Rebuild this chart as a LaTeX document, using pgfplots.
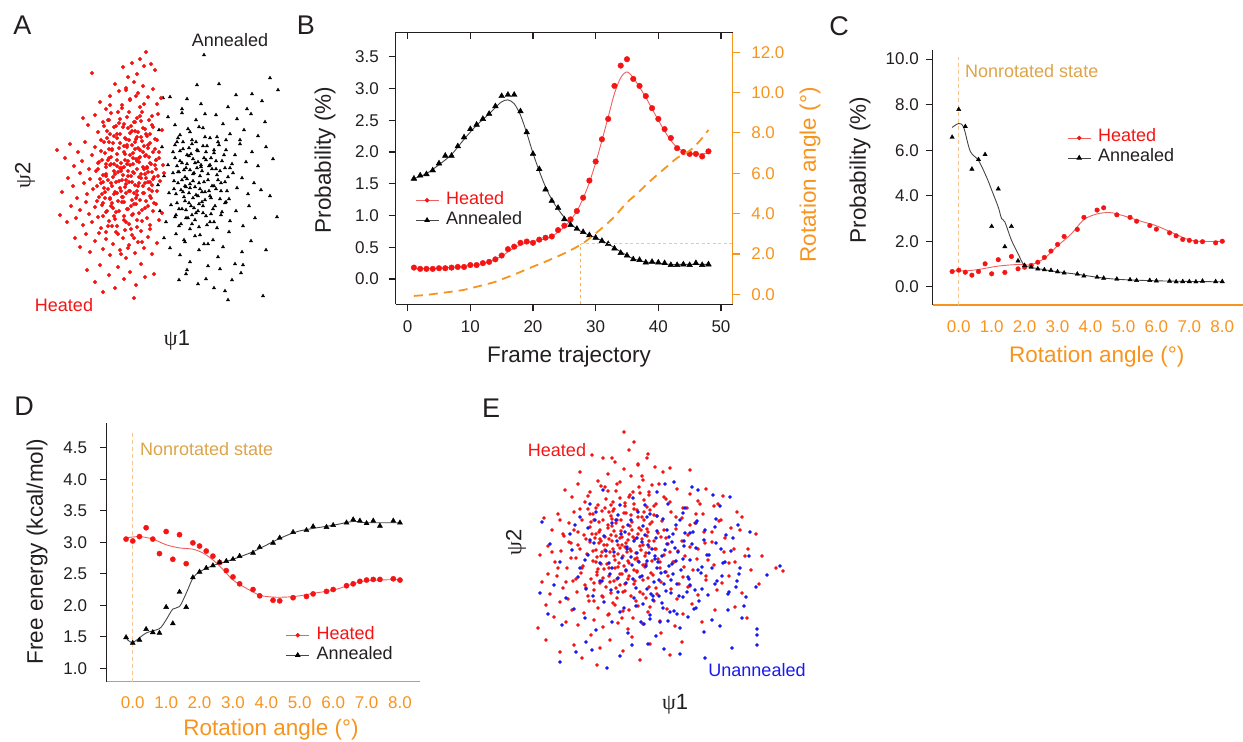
\documentclass[border=0pt]{standalone}
\usepackage{fontspec}
\setmainfont{Liberation Sans}
\newfontfamily\psifont{Liberation Serif}
\usepackage{pgfplots}
\pgfplotsset{compat=1.18}
\usepackage{pgfplotstable}

\definecolor{darktext}{RGB}{35,31,32}
\definecolor{hred}{RGB}{245,20,20}
\definecolor{hline}{RGB}{240,95,95}
\definecolor{aline}{RGB}{70,70,70}
\definecolor{rotor}{RGB}{247,148,30}
\definecolor{lightor}{RGB}{250,196,145}
\definecolor{nonrot}{RGB}{221,164,74}
\definecolor{ublue}{RGB}{25,25,240}

% ---------------- curve data ----------------
% frame, heated probability (%), annealed probability (%)
\pgfplotstableread{
frame heated annealed
1 0.18 1.58
2 0.16 1.63
3 0.16 1.65
4 0.16 1.71
5 0.17 1.82
6 0.17 1.94
7 0.18 1.94
8 0.19 2.09
9 0.19 2.23
10 0.22 2.36
11 0.22 2.43
12 0.25 2.52
13 0.27 2.60
14 0.31 2.72
15 0.37 2.88
16 0.47 2.90
17 0.51 2.90
18 0.57 2.64
19 0.59 2.31
20 0.57 1.97
21 0.62 1.73
22 0.65 1.41
23 0.67 1.23
24 0.77 1.12
25 0.84 0.94
26 0.94 0.85
27 1.07 0.79
28 1.28 0.74
29 1.55 0.69
30 1.85 0.65
31 2.20 0.60
32 2.52 0.55
33 3.04 0.48
34 3.36 0.41
35 3.46 0.37
36 3.15 0.31
37 3.04 0.30
38 2.88 0.26
39 2.69 0.27
40 2.52 0.26
41 2.36 0.25
42 2.22 0.22
43 2.06 0.22
44 2.00 0.23
45 1.97 0.22
46 1.97 0.25
47 1.93 0.22
48 2.01 0.23
}\frametable

% smoothed trends along the trajectory
\pgfplotstableread{
frame heated
1 0.17
5 0.17
10 0.21
13 0.27
15 0.36
17 0.49
19 0.57
21 0.61
23 0.67
25 0.82
26 0.93
27 1.07
28 1.27
29 1.52
30 1.83
31 2.18
32 2.55
33 2.92
34 3.17
35 3.26
36 3.17
37 3.02
38 2.86
39 2.68
40 2.50
41 2.33
42 2.18
43 2.07
44 2.01
45 1.98
46 1.97
47 1.97
48 1.99
}\frameheatfit

\pgfplotstableread{
frame annealed
1 1.58
3 1.66
5 1.80
7 1.96
9 2.20
11 2.42
13 2.60
14 2.70
15 2.79
16 2.82
17 2.76
18 2.58
19 2.30
20 1.98
21 1.70
22 1.45
23 1.25
24 1.10
25 0.97
26 0.87
27 0.79
28 0.73
30 0.65
32 0.55
34 0.43
36 0.32
38 0.27
40 0.25
42 0.23
44 0.23
46 0.23
48 0.23
}\frameannfit

% rotation angle along the trajectory (degrees)
\pgfplotstableread{
frame angle
1 -0.08
3 -0.03
5 0.05
7 0.13
9 0.22
10 0.30
12 0.45
14 0.62
15 0.74
17 0.98
20 1.37
22 1.62
25 2.03
27 2.35
28 2.53
30 3.02
32 3.55
33 3.85
35 4.55
37 5.10
38 5.42
40 5.97
42 6.50
43 6.76
45 7.12
46 7.40
47 7.75
48 8.15
}\angletable

% rotation angle, probability heated / annealed (%)
\pgfplotstableread{
angle heated annealed
-0.2 0.67 6.57
0.0 0.73 7.79
0.2 0.64 7.04
0.4 0.51 5.17
0.6 0.67 5.59
0.8 1.01 5.81
1.0 0.57 2.65
1.2 1.19 4.30
1.4 0.63 1.76
1.6 1.33 2.65
1.8 0.79 1.14
2.0 0.86 0.94
2.2 0.94 0.86
2.4 1.08 0.79
2.6 1.29 0.75
2.8 1.57 0.72
3.0 1.86 0.66
3.2 2.21 0.61
3.6 2.52 0.56
3.8 3.05 0.48
4.2 3.37 0.42
4.4 3.47 0.38
4.8 3.16 0.34
5.2 3.05 0.31
5.4 2.88 0.28
5.8 2.69 0.28
6.0 2.53 0.26
6.4 2.37 0.25
6.6 2.24 0.22
6.8 2.08 0.23
7.0 2.04 0.23
7.2 1.98 0.22
7.4 1.98 0.25
7.8 1.93 0.23
8.0 2.00 0.23
}\probtable

\pgfplotstableread{
angle heated
-0.2 0.70
0.2 0.70
0.6 0.76
1.2 0.91
1.8 0.98
2.2 0.97
2.6 1.25
3.0 1.80
3.4 2.30
3.8 2.95
4.2 3.20
4.6 3.26
5.0 3.12
5.6 2.85
6.0 2.68
6.6 2.30
7.0 2.06
7.4 1.99
8.0 2.00
}\probheatfit

\pgfplotstableread{
angle annealed
-0.2 7.00
0.0 7.17
0.15 7.00
0.35 5.95
0.6 5.55
0.85 4.80
1.0 4.25
1.2 3.50
1.3 3.00
1.4 2.85
1.6 2.05
1.8 1.46
2.0 0.94
2.4 0.80
3.0 0.66
3.6 0.55
4.2 0.42
4.8 0.33
5.6 0.28
6.4 0.25
7.2 0.23
8.0 0.22
}\probannfit

% rotation angle, free energy heated / annealed (kcal/mol)
\pgfplotstableread{
angle heated annealed
-0.2 3.05 1.49
0.0 3.02 1.40
0.2 3.09 1.45
0.4 3.23 1.62
0.6 3.05 1.57
0.8 2.82 1.56
1.0 3.17 1.97
1.2 2.73 1.71
1.4 3.12 2.21
1.6 2.66 1.97
1.8 2.99 2.44
2.0 2.94 2.53
2.2 2.86 2.59
2.4 2.78 2.63
2.6 2.68 2.68
2.8 2.55 2.70
3.0 2.45 2.73
3.2 2.34 2.78
3.6 2.25 2.83
3.8 2.15 2.92
4.2 2.08 2.99
4.4 2.07 3.07
4.8 2.12 3.16
5.2 2.14 3.19
5.4 2.18 3.25
5.8 2.22 3.24
6.0 2.25 3.27
6.4 2.31 3.31
6.6 2.34 3.36
6.8 2.38 3.34
7.0 2.40 3.30
7.2 2.41 3.34
7.4 2.41 3.26
7.8 2.42 3.34
8.0 2.40 3.31
}\energytable

\pgfplotstableread{
angle heated
-0.2 3.07
0.2 3.09
0.6 3.05
1.0 2.96
1.4 2.91
1.8 2.89
2.1 2.83
2.4 2.72
2.7 2.57
3.0 2.40
3.4 2.27
3.8 2.16
4.2 2.13
4.6 2.13
5.0 2.15
5.4 2.19
6.0 2.24
6.6 2.34
7.0 2.39
8.0 2.41
}\energyheatfit

\pgfplotstableread{
angle annealed
-0.2 1.48
0.0 1.41
0.4 1.56
0.8 1.63
1.0 1.77
1.2 1.94
1.4 1.98
1.6 2.19
1.8 2.43
2.0 2.53
2.4 2.63
3.0 2.73
3.6 2.85
4.4 3.06
5.0 3.18
6.0 3.27
6.6 3.33
7.0 3.31
8.0 3.31
}\energyannfit

\pgfplotsset{
  panel/.style={
    scale only axis, anchor=south west,
    font=\fontsize{17}{20}\selectfont,
    /pgf/number format/assume math mode=true,
    major tick length=7pt,
    axis line style={-, line width=1.1pt, draw=darktext},
    tick style={line width=1.1pt, draw=darktext},
    ticklabel style={inner sep=0pt, text=darktext},
    clip=false,
  },
  onedec/.style={/pgf/number format/fixed, /pgf/number format/fixed zerofill,
    /pgf/number format/precision=1},
  cloud/.style={scale only axis, anchor=south west, axis lines=none,
    ticks=none, clip=false},
  legbox/.style={
    legend cell align=left,
    legend image code/.code={\draw[mark repeat=2, mark phase=2, ##1]
      plot coordinates {(0pt,0pt) (11.5pt,0pt) (23pt,0pt)};},
    legend style={draw=none, fill=none, inner sep=0pt, anchor=north west,
      font=\fontsize{18}{20}\selectfont,
      nodes={inner sep=0pt, text height=14pt, text depth=6pt},
      column sep=7pt, row sep=0pt},
  },
  heatpts/.style={only marks, mark=*, draw=hred, fill=hred},
  annpts/.style={only marks, mark=triangle*, draw=black, fill=black},
}

\begin{document}
\begin{tikzpicture}
\path[use as bounding box] (0pt,0pt) rectangle (1243pt,-742pt);

% ============ A: principal coordinates, heated vs annealed ============
\begin{axis}[cloud, at={(40pt,-310pt)}, width=250pt, height=270pt,
  xmin=0, xmax=250, ymin=0, ymax=270]
\addplot[only marks, mark=triangle*, mark size=1.9pt, black] coordinates {
(164,255) (230,232) (238,220) (157,225) (179,226) (196,215) (212,216) (123,212)
(130,213) (147,211) (161,206) (188,203) (207,201) (142,201) (222,209)
(128,193) (135,185) (142,197) (150,178) (156,190) (163,182) (170,172) (176,195)
(183,186) (190,176) (197,191) (204,180) (211,196) (218,174) (225,188) (138,172)
(165,196) (186,170) (119,180) (200,170)
(116,150) (122,163) (128,145) (133,158) (137,168) (140,149) (143,161) (146,142)
(149,154) (152,166) (155,147) (158,159) (161,143) (164,152) (167,164) (170,145)
(174,157) (178,168) (182,149) (186,160) (190,142) (195,155) (200,166) (206,148)
(212,158) (218,144) (226,163) (233,151) (150,140) (176,141)
(118,125) (124,134) (129,117) (134,129) (138,138) (141,120) (144,113) (147,131)
(150,122) (153,136) (156,115) (159,127) (162,139) (165,118) (168,130) (171,112)
(174,124) (177,135) (181,119) (185,128) (189,111) (193,137) (197,122) (202,132)
(208,116) (214,127) (221,120) (230,114) (160,121) (146,123)
(120,99) (126,88) (131,105) (135,93) (139,84) (142,101) (146,92) (149,107)
(152,86) (156,97) (159,83) (163,104) (166,94) (170,88) (173,101) (177,82)
(181,95) (185,107) (190,89) (196,99) (203,84) (209,104) (215,92) (237,93) (154,102)
(124,72) (130,62) (136,76) (140,55) (145,68) (150,48) (155,74) (159,60)
(164,66) (168,44) (173,70) (178,53) (183,63) (189,78) (195,46) (202,58)
(211,69) (226,60) (147,40) (180,41)
(139,30) (146,36) (158,26) (166,31) (174,22) (185,19) (192,30) (201,37)
(223,14) (188,10) (203,45)
(145,133) (162,118) (151,156) (137,107) (172,141) (158,99) (143,168) (181,127)
(153,112) (166,150) (139,138) (175,104) (148,181) (160,134) (134,121) (184,155)
(155,90) (169,119) (142,147) (177,173) (150,126) (163,164) (136,95) (188,133)
(157,142) (145,109) (171,96) (140,159) (164,128) (152,170) (180,111) (147,146)
(159,106) (133,137) (174,160) (155,123) (167,85) (143,118) (185,142) (149,162)
(161,145) (138,127) (170,114) (153,151) (178,130) (146,100) (165,173) (135,152)
(158,114) (182,98) (144,140) (168,136) (151,104) (140,175) (176,149) (157,160)
(148,92) (172,124) (136,116) (162,108) (154,137) (187,119) (142,130) (166,158)
(150,81) (179,165) (158,148) (139,101) (169,144) (145,124) (192,146) (160,75)
(135,165) (174,88) (153,129) (163,97) (147,155) (186,108) (156,168) (141,86)
(171,152) (149,117) (180,139) (137,144) (165,110) (152,95) (176,121) (144,70)
(159,183) (168,66)
};
\addplot[only marks, mark=*, mark size=1.75pt, hred] coordinates {
(106,258) (52,237) (83,243) (92,247) (100,251) (104,244) (111,246) (115,240)
(97,236) (88,233)
(60,208) (70,214) (75,226) (79,219) (86,222) (90,211) (94,228) (98,217)
(103,224) (108,213) (113,221) (117,206) (82,205) (66,201) (100,203) (121,212)
(43,192) (48,185) (55,195) (58,178) (63,188) (67,172) (71,197) (74,183)
(77,176) (80,191) (84,186) (86,171) (89,198) (92,179) (95,188) (97,173)
(100,194) (103,182) (106,176) (109,190) (112,185) (115,171) (118,196) (122,180)
(69,190) (88,182)
(17,160) (25,152) (30,166) (34,144) (38,158) (42,149) (45,168) (49,141)
(52,155) (55,163) (58,147) (61,159) (64,168) (66,143) (69,152) (72,161)
(74,146) (77,156) (80,167) (82,142) (85,150) (87,163) (90,145) (93,157)
(95,168) (97,149) (100,160) (103,143) (105,154) (108,165) (110,147) (113,158)
(116,141) (119,152) (123,145) (84,158) (71,146) (99,152) (62,150) (107,142)
(22,118) (28,132) (33,124) (37,112) (40,137) (44,127) (47,116) (50,131)
(53,121) (56,139) (59,113) (61,127) (63,135) (65,118) (68,130) (70,111)
(72,124) (75,136) (77,117) (79,129) (81,139) (83,113) (85,123) (88,134)
(90,119) (92,128) (94,137) (96,112) (98,124) (101,132) (103,117) (105,127)
(108,138) (110,114) (112,125) (114,133) (117,119) (120,129) (124,137) (86,130)
(74,116) (97,119) (109,121) (66,134) (57,124)
(20,95) (27,88) (31,104) (36,92) (40,100) (43,85) (46,108) (49,96)
(52,88) (55,103) (58,93) (61,82) (63,107) (66,98) (69,89) (71,104)
(74,94) (77,84) (79,99) (82,108) (84,90) (87,101) (89,86) (92,95)
(94,106) (97,83) (99,97) (102,89) (105,102) (107,92) (110,85) (113,99)
(116,106) (119,90) (122,97) (91,81) (68,84) (57,109)
(35,72) (40,63) (46,76) (50,58) (55,69) (59,77) (63,61) (66,71)
(70,55) (73,66) (76,78) (80,60) (83,72) (86,52) (89,65) (92,75)
(95,57) (98,68) (101,79) (104,62) (108,73) (112,56) (117,67)
(47,40) (55,28) (60,45) (69,35) (75,22) (78,43) (84,31) (90,38)
(96,25) (101,46) (105,33) (114,36) (94,12) (63,18)
(71,153) (88,139) (96,171) (64,122) (103,158) (79,187) (92,110) (110,176)
(58,141) (84,164) (99,127) (76,98) (107,143) (67,179) (93,152) (81,119)
(115,161) (62,105) (101,189) (87,146) (73,133) (108,104) (95,161) (69,168)
(84,94) (112,138) (77,150) (90,177) (60,131) (104,117) (82,202) (97,141)
(70,112) (113,183) (86,126) (65,157) (102,169) (78,109) (91,134) (106,155)
(74,174) (88,101) (99,148) (63,94) (110,128) (80,142) (94,188) (68,121)
(116,150) (85,172) (101,136) (72,160) (89,119) (105,181) (76,128) (93,96)
(61,170) (108,162) (83,135) (97,115) (70,145) (114,107) (87,193) (79,162)
(103,124) (66,136) (92,165) (111,146) (75,118) (98,178) (84,108) (64,184)
(106,132) (90,155) (73,102) (117,170) (81,147) (95,125) (68,150) (102,198)
(86,117) (109,153) (77,172) (93,138) (62,116) (100,110) (83,183) (71,127)
(112,119) (96,151) (89,170) (67,99) (104,141) (80,122) (118,134) (74,139)
(91,104) (107,174) (85,156) (59,148) (98,162) (76,184) (102,100) (69,161)
(94,117) (110,167) (82,130) (88,149) (65,112) (115,145) (78,138) (97,192)
(72,107) (105,136) (91,184) (84,143) (100,153) (63,128) (111,112) (87,165)
(75,91) (96,106) (68,190) (108,128) (80,176) (93,146) (101,173) (86,88)
(73,167) (119,158) (89,128) (66,146) (104,164) (82,113) (95,179) (113,131)
(77,144) (99,133) (70,176) (106,109) (85,80) (94,72) (78,76) (102,68)
(88,62) (72,84) (110,81) (97,90) (66,78) (81,56) (90,210) (104,206)
(78,198) (112,194) (96,214) (86,220) (70,205)
};
\end{axis}

% ============ B: probability along the frame trajectory ============
\begin{axis}[panel, at={(395.7pt,-304.3pt)}, width=337pt, height=272pt,
  xmin=-1.91, xmax=51.87, ymin=-0.398, ymax=3.884,
  axis x line*=bottom, axis y line*=left,
  xtick={0,10,20,30,40,50}, ytick={0,0.5,1,1.5,2,2.5,3,3.5},
  yticklabel style={onedec},
  xticklabel shift=8.7pt, yticklabel shift=9.7pt,
  tick align=outside,
  legbox, legend style={at={(0.057,0.42)}}]
\addlegendimage{hline, line width=0.9pt, mark=*, mark size=1.8pt,
  mark options={draw=hred, fill=hred}}
\addlegendentry{\textcolor{hred}{Heated}}
\addlegendimage{aline, line width=0.9pt, mark=triangle*, mark size=2.4pt,
  mark options={draw=black, fill=black}}
\addlegendentry{\textcolor{darktext}{Annealed}}
\addplot[hline, line width=0.9pt, smooth, forget plot] table[x=frame, y=heated] {\frameheatfit};
\addplot[aline, line width=0.9pt, smooth, forget plot] table[x=frame, y=annealed] {\frameannfit};
\addplot[heatpts, mark size=2.8pt, forget plot] table[x=frame, y=heated] {\frametable};
\addplot[annpts, mark size=3.3pt, forget plot] table[x=frame, y=annealed] {\frametable};
\end{axis}

\begin{axis}[panel, at={(395.7pt,-304.3pt)}, width=337pt, height=272pt,
  xmin=-1.91, xmax=51.87, ymin=-0.496, ymax=12.99,
  axis x line=none, axis y line*=right,
  y axis line style={draw=rotor}, ytick style={draw=rotor},
  ytick={0,2,4,6,8,10,12},
  yticklabel style={onedec, text=rotor}, yticklabel shift=11.4pt,
  tick align=outside]
\addplot[lightor, line width=1.2pt, dash pattern=on 3pt off 2.5pt] coordinates {
  (27.6,2.5) (51.87,2.5)};
\addplot[rotor!75, line width=1.1pt, dash pattern=on 3.5pt off 2.5pt] coordinates {
  (27.6,-0.496) (27.6,2.5)};
\addplot[rotor, line width=1.8pt, dash pattern=on 9pt off 6pt, smooth]
  table[x=frame, y=angle] {\angletable};
\end{axis}

\begin{axis}[panel, at={(395.7pt,-304.3pt)}, width=337pt, height=272pt,
  xmin=-1.91, xmax=51.87, ymin=0, ymax=1,
  axis x line*=top, axis y line=none,
  xtick={0,10,20,30,40,50}, xticklabels={},
  tick align=inside]
\end{axis}

% ============ C: probability against rotation angle ============
\begin{axis}[panel, at={(932.7pt,-305pt)}, width=310.3pt, height=255pt,
  xmin=-0.79, xmax=8.63, ymin=-0.80, ymax=10.4,
  axis x line*=bottom, axis y line*=left,
  x axis line style={draw=rotor}, xtick style={draw=none},
  xtick={0,1,...,8}, ytick={0,2,4,6,8,10},
  xticklabel style={onedec, text=rotor}, yticklabel style={onedec},
  xticklabel shift=8.5pt, yticklabel shift=6.7pt,
  tick align=outside,
  legbox, legend style={at={(0.433,0.695)}}]
\addlegendimage{hline, line width=0.9pt, mark=*, mark size=1.8pt,
  mark options={draw=hred, fill=hred}}
\addlegendentry{\textcolor{hred}{Heated}}
\addlegendimage{aline, line width=0.9pt, mark=triangle*, mark size=2.4pt,
  mark options={draw=black, fill=black}}
\addlegendentry{\textcolor{darktext}{Annealed}}
\addplot[lightor, line width=1.1pt, dash pattern=on 4pt off 3pt, forget plot]
  coordinates {(0,-0.80) (0,10.1)};
\addplot[hline, line width=0.9pt, smooth, forget plot] table[x=angle, y=heated] {\probheatfit};
\addplot[aline, line width=0.9pt, smooth, forget plot] table[x=angle, y=annealed] {\probannfit};
\addplot[heatpts, mark size=2.3pt, forget plot] table[x=angle, y=heated] {\probtable};
\addplot[annpts, mark size=2.5pt, forget plot] table[x=angle, y=annealed] {\probtable};
\end{axis}

% ============ D: free energy against rotation angle ============
\begin{axis}[panel, at={(106.7pt,-681.7pt)}, width=313.3pt, height=259pt,
  xmin=-0.78, xmax=8.6, ymin=0.787, ymax=4.897,
  axis x line*=bottom, axis y line*=left,
  x axis line style={draw=rotor}, xtick style={draw=none},
  xtick={0,1,...,8}, ytick={1,1.5,2,2.5,3,3.5,4,4.5},
  xticklabel style={onedec, text=rotor}, yticklabel style={onedec},
  xticklabel shift=7.3pt, yticklabel shift=12.4pt,
  tick align=outside,
  legbox, legend style={at={(0.571,0.219)}}]
\addlegendimage{hline, line width=0.9pt, mark=*, mark size=1.8pt,
  mark options={draw=hred, fill=hred}}
\addlegendentry{\textcolor{hred}{Heated}}
\addlegendimage{aline, line width=0.9pt, mark=triangle*, mark size=2.4pt,
  mark options={draw=black, fill=black}}
\addlegendentry{\textcolor{darktext}{Annealed}}
\addplot[lightor, line width=1.1pt, dash pattern=on 4pt off 3pt, forget plot]
  coordinates {(0,0.787) (0,4.73)};
\addplot[hline, line width=0.9pt, smooth, forget plot] table[x=angle, y=heated] {\energyheatfit};
\addplot[aline, line width=0.9pt, smooth, forget plot] table[x=angle, y=annealed] {\energyannfit};
\addplot[heatpts, mark size=2.6pt, forget plot] table[x=angle, y=heated] {\energytable};
\addplot[annpts, mark size=2.9pt, forget plot] table[x=angle, y=annealed] {\energytable};
\end{axis}

% ============ E: principal coordinates, heated vs unannealed ============
\begin{axis}[cloud, at={(530pt,-680pt)}, width=260pt, height=255pt,
  xmin=0, xmax=260, ymin=0, ymax=255]
\addplot[only marks, mark=*, mark size=1.6pt, hred] coordinates {
(94,248) (62,225) (73,222) (85,218) (99,230) (108,216) (117,222) (125,213)
(133,208) (140,212) (50,208) (78,206) (112,204) (160,210) (104,238)
(35,190) (42,183) (48,196) (55,178) (60,188) (66,172) (71,194) (76,181)
(81,175) (86,189) (90,198) (95,177) (100,185) (104,171) (109,193) (114,180)
(119,188) (124,174) (129,196) (134,183) (140,178) (147,191) (153,172) (160,186)
(168,179) (176,191) (184,174) (193,184) (58,171) (117,173)
(14,162) (22,150) (28,166) (34,144) (39,157) (44,168) (48,148) (52,160)
(56,141) (60,153) (63,166) (66,146) (69,158) (72,169) (75,143) (78,155)
(81,164) (84,149) (87,160) (90,142) (93,153) (96,167) (99,146) (102,158)
(105,141) (108,163) (111,150) (114,168) (117,144) (120,156) (124,165) (128,147)
(132,159) (136,142) (141,168) (146,151) (152,162) (158,145) (165,157) (173,166)
(182,148) (191,160) (201,152) (212,163) (226,146) (83,169) (70,141)
(10,125) (18,134) (25,118) (31,129) (37,112) (41,137) (46,122) (50,131)
(53,114) (57,126) (60,138) (63,119) (66,130) (68,111) (71,124) (74,135)
(77,116) (80,128) (82,139) (85,120) (88,113) (90,132) (93,124) (96,137)
(99,117) (101,129) (104,110) (107,122) (110,134) (113,115) (116,127) (119,139)
(122,119) (126,131) (130,112) (134,125) (138,136) (143,118) (148,129) (154,113)
(160,133) (167,121) (175,137) (184,115) (194,128) (205,118) (218,131) (232,124)
(246,112) (253,109) (79,112) (95,133)
(12,98) (20,86) (27,104) (33,92) (38,81) (43,99) (47,88) (51,107)
(55,95) (58,84) (61,101) (64,90) (67,108) (70,97) (73,83) (76,93)
(79,104) (81,87) (84,99) (87,82) (90,95) (92,106) (95,89) (98,101)
(101,84) (104,96) (107,109) (110,88) (113,100) (116,82) (119,93) (123,105)
(127,86) (131,98) (136,108) (141,91) (147,81) (153,103) (160,94) (168,85)
(176,100) (187,90) (199,104) (212,87) (229,96)
(8,52) (16,75) (24,63) (30,78) (36,58) (42,70) (48,55) (54,67)
(59,79) (64,60) (68,72) (73,53) (78,65) (83,77) (88,57) (93,69)
(98,51) (103,62) (108,74) (113,56) (118,68) (124,79) (130,59) (137,71)
(145,54) (153,66) (162,76) (172,58) (185,70) (205,73) (217,62)
(16,40) (30,28) (44,35) (52,22) (61,45) (70,32) (80,40) (93,29)
(102,43) (110,20) (120,36) (131,47) (140,25) (152,38) (67,15)
(92,135) (78,152) (105,121) (66,118) (118,148) (84,171) (99,104) (71,139)
(112,163) (88,126) (61,158) (103,143) (80,98) (125,131) (94,167) (74,111)
(109,152) (86,144) (68,175) (116,116) (97,128) (82,161) (131,143) (63,129)
(107,108) (90,182) (76,124) (120,170) (100,154) (85,112) (70,150) (113,135)
(95,96) (79,168) (128,121) (65,142) (104,176) (89,117) (118,102) (73,160)
(98,140) (83,131) (110,187) (67,105) (122,158) (91,149) (77,135) (106,127)
(60,166) (115,124) (87,101) (101,165) (72,128) (126,176) (94,114) (81,145)
(112,141) (64,97) (99,183) (86,157) (119,133) (75,172) (108,119) (93,88)
(69,137) (121,107) (84,124) (102,150) (78,189) (114,160) (96,109) (62,146)
(107,170) (88,135) (130,118) (73,102) (100,131) (83,178) (117,151) (67,123)
(91,160) (105,99) (79,141) (124,139) (95,174) (71,116) (111,130) (86,92)
(64,160) (119,185) (98,119) (82,154) (108,146) (75,130) (127,164) (90,106)
(103,188) (69,148) (115,113) (92,143) (134,150) (140,128) (146,163) (138,104)
(152,139) (144,118) (157,172) (149,96) (136,181) (155,124) (48,135) (52,112)
(44,150) (56,92) (50,171) (41,122) (58,184) (46,101) (54,145) (39,138)
(160,155) (168,131) (163,110) (174,148) (170,176) (178,120) (158,93) (166,166)
(182,138) (176,104) (85,75) (99,70) (72,84) (113,86) (92,62) (106,79)
(79,66) (120,73) (64,79) (126,92) (87,196) (101,204) (75,193) (113,200)
(94,211) (122,195) (68,199) (108,215) (82,222) (118,226) (195,142) (204,131)
(189,159) (210,150) (199,117) (188,176) (215,124) (192,97) (221,110) (207,168)
(28,112) (33,146) (22,128) (36,98) (30,160) (18,106)
};
\addplot[only marks, mark=*, mark size=1.6pt, ublue] coordinates {
(73,190) (103,182) (115,175) (127,188) (135,196) (144,198) (162,193) (168,190)
(183,185) (190,174) (200,183) (90,175) (60,176) (138,176) (155,172)
(12,158) (40,146) (50,163) (58,152) (66,168) (74,144) (82,157) (88,165)
(95,148) (101,160) (107,142) (113,154) (120,166) (127,149) (133,161) (139,143)
(146,155) (153,167) (160,147) (167,159) (175,150) (186,161) (196,145) (208,155)
(220,148) (45,155)
(20,136) (30,118) (42,130) (50,112) (58,125) (64,137) (70,117) (76,129)
(82,112) (87,139) (92,122) (97,133) (102,115) (107,127) (112,138) (117,119)
(122,131) (127,112) (132,124) (137,136) (142,116) (148,128) (154,139) (160,120)
(166,132) (172,113) (179,125) (186,137) (193,117) (201,129) (210,112) (219,124)
(237,105) (250,114) (125,121)
(10,87) (24,95) (36,82) (48,103) (56,91) (63,84) (72,99) (80,106)
(88,88) (96,97) (104,82) (110,103) (117,91) (123,84) (129,100) (135,108)
(141,87) (147,96) (153,83) (159,101) (165,90) (171,107) (178,85) (185,96)
(192,104) (199,88) (207,99) (216,83) (226,93) (143,106)
(18,66) (32,55) (44,71) (55,62) (66,50) (74,78) (82,58) (90,68)
(98,47) (106,74) (114,56) (120,65) (126,44) (132,77) (138,59) (144,69)
(150,52) (158,63) (166,72) (174,48) (182,60) (190,54) (198,70) (227,51)
(227,45) (212,62)
(30,18) (46,28) (56,38) (62,30) (77,12) (90,24) (102,35) (118,36)
(134,31) (150,26) (175,22) (202,32) (227,35)
(128,118) (145,132) (112,104) (160,95) (137,150) (121,86) (153,121) (104,139)
(168,110) (133,72) (117,163) (149,84) (126,142) (141,100) (109,118) (162,136)
(130,58) (155,147) (119,127) (172,91) (139,114) (98,155) (147,66) (124,98)
(166,157) (113,76) (151,110) (135,130) (106,92) (177,125) (143,146) (120,61)
(158,103) (127,164) (101,123) (169,79) (136,89) (115,145) (154,134) (131,107)
(182,112) (108,168) (146,119) (123,80) (163,148) (96,110) (140,68) (157,88)
(118,135) (174,140) (134,96) (111,58) (150,160) (125,124) (164,71) (103,101)
(142,138) (129,84) (187,99) (116,114) (84,128) (91,146) (88,102) (79,117)
(94,72) (86,160) (81,90) (97,131) (195,118) (203,142) (198,86) (209,106)
(191,131) (214,74) (185,153) (206,93) (60,140) (55,120) (70,99) (65,160)
};
\end{axis}

% ============ panel letters and labels ============
\begin{scope}[every node/.style={inner sep=0pt, text=darktext}]
\node[font=\fontsize{27}{30}\selectfont] at (22.5pt,-25pt) {A};
\node[font=\fontsize{27}{30}\selectfont] at (306pt,-25pt) {B};
\node[font=\fontsize{27}{30}\selectfont] at (839pt,-26pt) {C};
\node[font=\fontsize{27}{30}\selectfont] at (24pt,-406pt) {D};
\node[font=\fontsize{27}{30}\selectfont] at (491pt,-408pt) {E};

% A
\node[font=\fontsize{18}{20}\selectfont] at (230pt,-40pt) {Annealed};
\node[font=\fontsize{18}{20}\selectfont, text=hred] at (64pt,-305pt) {Heated};
\node[font=\fontsize{22}{24}\selectfont, rotate=90] at (25pt,-175pt) {{\psifont ψ}2};
\node[font=\fontsize{22}{24}\selectfont] at (177pt,-340pt) {{\psifont ψ}1};

% B
\node[font=\fontsize{22.5}{24}\selectfont, rotate=90] at (325pt,-160pt) {Probability (\%)};
\node[font=\fontsize{22.5}{24}\selectfont] at (569pt,-356.7pt) {Frame trajectory};
\node[font=\fontsize{22.5}{24}\selectfont, rotate=90, text=rotor] at (810pt,-175pt) {Rotation angle (°)};

% C
\node[font=\fontsize{22.5}{24}\selectfont, rotate=90] at (860pt,-170pt) {Probability (\%)};
\node[font=\fontsize{22.5}{24}\selectfont, text=rotor] at (1096.7pt,-356.7pt) {Rotation angle (°)};
\node[font=\fontsize{18}{20}\selectfont, text=nonrot, anchor=west] at (965pt,-70.7pt) {Nonrotated state};

% D
\node[font=\fontsize{22.5}{24}\selectfont, rotate=90] at (37pt,-551.7pt) {Free energy (kcal/mol)};
\node[font=\fontsize{22.5}{24}\selectfont, text=rotor] at (271pt,-730pt) {Rotation angle (°)};
\node[font=\fontsize{18}{20}\selectfont, text=nonrot, anchor=west] at (140pt,-449pt) {Nonrotated state};

% E
\node[font=\fontsize{18}{20}\selectfont, text=hred] at (557pt,-450pt) {Heated};
\node[font=\fontsize{18}{20}\selectfont, text=ublue] at (757pt,-670pt) {Unannealed};
\node[font=\fontsize{22}{24}\selectfont, rotate=90] at (516pt,-542pt) {{\psifont ψ}2};
\node[font=\fontsize{22}{24}\selectfont] at (675pt,-704pt) {{\psifont ψ}1};
\end{scope}
\end{tikzpicture}
\end{document}
